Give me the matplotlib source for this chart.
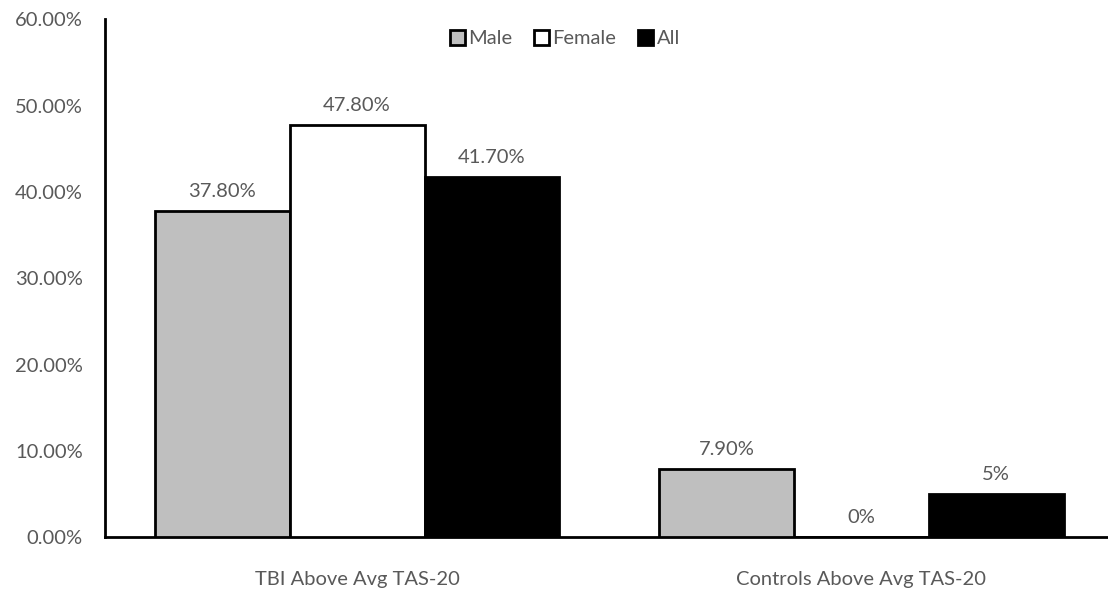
import matplotlib
matplotlib.use("Agg")
import matplotlib.pyplot as plt
import numpy as np

# === DATA ===
categories = ["TBI Above Avg TAS-20", "Controls Above Avg TAS-20"]
series_names = ["Male", "Female", "All"]
male = [37.8, 7.9]
female = [47.8, 0.0]
all_ = [41.7, 5.0]
labels_male = ["37.80%", "7.90%"]
labels_female = ["47.80%", "0%"]
labels_all = ["41.70%", "5%"]
y_ticks = [0, 10, 20, 30, 40, 50, 60]

# === STYLE ===
plt.rcParams['font.family'] = ['Lato', 'DejaVu Sans']
FS = 14.5
plt.rcParams['font.size'] = FS
TEXT = '#595959'
colors = ['#BFBFBF', '#FFFFFF', '#000000']

fig = plt.figure(figsize=(11.08, 5.90), dpi=100)
ax = fig.add_axes([0.0948, 0.089, 0.91, 0.878])

x = np.arange(len(categories))
width = 0.2675
series = [male, female, all_]
labels = [labels_male, labels_female, labels_all]

for i, (vals, name, col, labs) in enumerate(zip(series, series_names, colors, labels)):
    pos = x + (i - 1) * width
    bars = ax.bar(pos, vals, width, color=col, edgecolor='black', linewidth=2,
                  label=name, zorder=3)
    for b, v, lab in zip(bars, vals, labs):
        ax.annotate(lab, (b.get_x() + b.get_width() / 2, v),
                    xytext=(0, 8), textcoords='offset points',
                    ha='center', va='bottom', color=TEXT, fontsize=FS)

ax.set_xlim(-0.5, 1.5)
ax.set_ylim(0, 60)
ax.set_yticks(y_ticks)
ax.set_yticklabels([f"{t:.2f}%" for t in y_ticks], color=TEXT, fontsize=FS)
ax.set_xticks(x)
ax.set_xticklabels(categories, color=TEXT, fontsize=FS)
ax.tick_params(axis='both', length=0)
ax.tick_params(axis='y', pad=16)
ax.tick_params(axis='x', pad=24)

for s in ['top', 'right']:
    ax.spines[s].set_visible(False)
for s in ['left', 'bottom']:
    ax.spines[s].set_color('black')
    ax.spines[s].set_linewidth(2)

leg = ax.legend(loc='upper center', bbox_to_anchor=(0.456, 1.015), ncol=3, frameon=False,
                handlelength=0.75, handleheight=0.75, handletextpad=0.15,
                columnspacing=1.1, fontsize=FS)
for t in leg.get_texts():
    t.set_color(TEXT)

plt.savefig('out.png', dpi=100)
plt.close()
